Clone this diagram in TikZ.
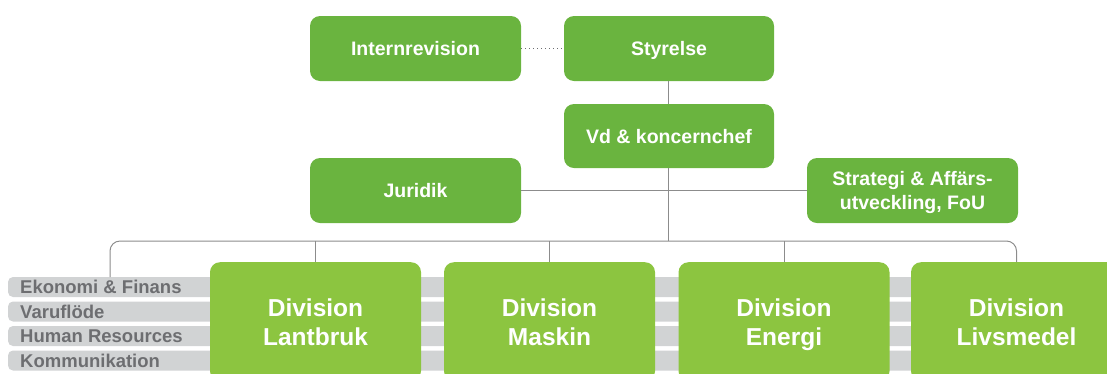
\documentclass[tikz,border=0pt]{standalone}
\usepackage{fontspec}
\setmainfont{Liberation Sans}
\definecolor{upgreen}{HTML}{6AB43F}
\definecolor{divgreen}{HTML}{8CC540}
\definecolor{bargray}{HTML}{D1D3D4}
\definecolor{labgray}{HTML}{6D6E71}
\definecolor{linegray}{HTML}{8C8C8C}
\begin{document}
\begin{tikzpicture}[x=1pt,y=-1pt,
  topbox/.style={fill=upgreen, rounded corners=10pt, minimum width=211pt, minimum height=65pt,
    text=white, font=\fontsize{19.5}{24.3}\selectfont\bfseries, align=center, inner sep=0pt,
    text depth=0pt},
  divbox/.style={fill=divgreen, rounded corners=10pt, minimum width=211pt, minimum height=119pt,
    text=white, font=\fontsize{24.5}{29}\selectfont\bfseries, align=center, inner sep=0pt,
    anchor=north, text depth=0pt},
  lab/.style={text=labgray, font=\fontsize{18.5}{20}\selectfont\bfseries, anchor=base west, inner sep=0pt},
  conn/.style={draw=linegray, line width=1pt},
  bar/.style={fill=bargray, rounded corners=5pt}
]
\useasboundingbox (0,0) rectangle (1107,373);
\clip (0,0) rectangle (1107,373);

% gray function bars
\fill[bar] (8,277) rectangle (1140,297);
\fill[bar] (8,301.5) rectangle (1140,321.5);
\fill[bar] (8,326) rectangle (1140,346);
\fill[bar] (8,350.5) rectangle (1140,370.5);
\node[lab] (l1) at (20,293.5) {Ekonomi \& Finans};
\node[lab] (l2) at (20,318) {Varuflöde};
\node[lab] (l3) at (20,342.5) {Human Resources};
\node[lab] (l4) at (20,367) {Kommunikation};

% top boxes
\node[topbox] (intr) at (415.5,48.5) {Internrevision};
\node[topbox, minimum width=210pt] (styr) at (669,48.5) {Styrelse};
\node[topbox, minimum width=210pt, minimum height=64pt] (vd) at (669,136) {Vd \& koncernchef};
\node[topbox] (jur) at (415.5,190.5) {Juridik};
\node[topbox] (strat) at (912.5,190.5) {Strategi \& Affärs-\\utveckling, FoU};

% division boxes
\node[divbox] (lant) at (315.5,262) {Division\\Lantbruk};
\node[divbox] (mask) at (549.5,262) {Division\\Maskin};
\node[divbox] (ener) at (784,262) {Division\\Energi};
\node[divbox] (livs) at (1016.5,262) {Division\\Livsmedel};

% connectors
\coordinate (bus) at (668,241);
\coordinate (busl) at (110,277);
\draw[draw=labgray, line width=1pt, dash pattern=on 1pt off 3pt] (intr.east) -- (styr.west);
\draw[conn] (668,81) -- (668,104);
\draw[conn] (vd.south -| bus) -- (bus);
\draw[conn] (jur.east) -- (strat.west);
\draw[conn, rounded corners=10pt] (busl) -- (busl |- bus) -- (livs.north |- bus) -- (livs.north);
\draw[conn] (lant.north) -- (lant.north |- bus);
\draw[conn] (mask.north) -- (mask.north |- bus);
\draw[conn] (ener.north) -- (ener.north |- bus);
\end{tikzpicture}
\end{document}
